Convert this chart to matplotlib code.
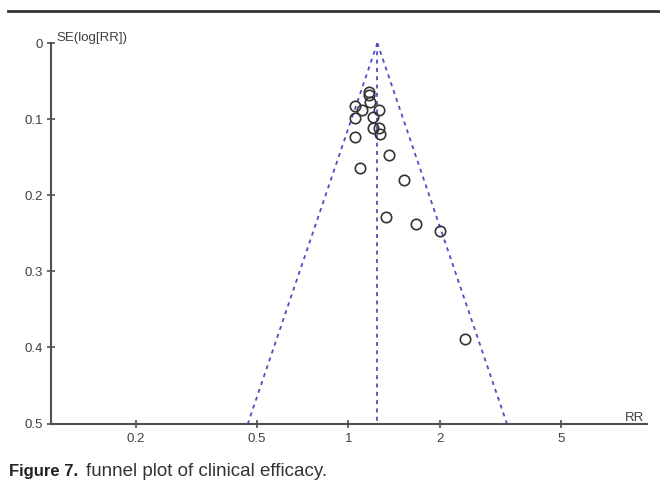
import matplotlib
matplotlib.use('Agg')
import matplotlib.pyplot as plt
import numpy as np

plt.rcParams['font.family'] = ['Liberation Sans', 'DejaVu Sans']

# study estimates
rr = [1.170, 1.172, 1.176, 1.052, 1.105, 1.259, 1.048, 1.206, 1.208, 1.264,
      1.266, 1.052, 1.361, 1.093, 1.528, 1.330, 1.670, 2.001, 2.419]
se = [0.065, 0.068, 0.078, 0.083, 0.088, 0.088, 0.099, 0.097, 0.112, 0.112,
      0.120, 0.124, 0.147, 0.164, 0.180, 0.228, 0.238, 0.247, 0.389]
pooled_rr = 1.245
se_max = 0.5
xticks = [0.2, 0.5, 1, 2, 5]
xticklabels = ['0.2', '0.5', '1', '2', '5']
yticks = [0, 0.1, 0.2, 0.3, 0.4, 0.5]
yticklabels = ['0', '0.1', '0.2', '0.3', '0.4', '0.5']

fig = plt.figure(figsize=(6.6, 4.86), dpi=100)
ax = fig.add_axes([0.0768, 0.1286, 0.9032, 0.7829])

# funnel (95% limits) and pooled line
s = np.array([0, se_max])
lo = np.exp(np.log(pooled_rr) - 1.96 * s)
hi = np.exp(np.log(pooled_rr) + 1.96 * s)
dash = dict(color='#4d4dc8', lw=1.3, ls=(0, (2.2, 2.4)))
ax.plot(lo, s, **dash)
ax.plot(hi, s, **dash)
ax.plot([pooled_rr, pooled_rr], s, **dash)

ax.plot(rr, se, 'o', mfc='none', mec='#333333', mew=1.2, ms=7.5, ls='none')

ax.set_xscale('log')
ax.set_xlim(0.105, 9.57)
ax.set_ylim(0.5, 0)
ax.set_xticks(xticks)
ax.set_xticklabels(xticklabels)
ax.minorticks_off()
ax.set_yticks(yticks)
ax.set_yticklabels(yticklabels)

for side in ['top', 'right']:
    ax.spines[side].set_visible(False)
for side in ['left', 'bottom']:
    ax.spines[side].set_color('#505050')
    ax.spines[side].set_linewidth(1.5)
ax.tick_params(direction='inout', length=5.5, width=1.2, color='#505050',
               labelsize=9.5, labelcolor='#404040', pad=4)
ax.tick_params(axis='y', pad=3)

ax.text(0.01, 0.997, 'SE(log[RR])', transform=ax.transAxes, fontsize=9.5,
        color='#404040', ha='left', va='bottom')
ax.text(0.995, 0.007, 'RR', transform=ax.transAxes, fontsize=9.5,
        color='#404040', ha='right', va='baseline')

# header rule and caption
fig.add_artist(plt.Line2D([0.012, 1.0], [0.977, 0.977], color='#333333', lw=2))
fig.text(0.014, 0.021, 'Figure 7.', fontsize=12, fontweight='bold',
         color='#222222', va='baseline')
fig.text(0.131, 0.021, 'funnel plot of clinical efficacy.', fontsize=13.5,
         color='#333333', va='baseline')

fig.savefig('out.png', dpi=100)
